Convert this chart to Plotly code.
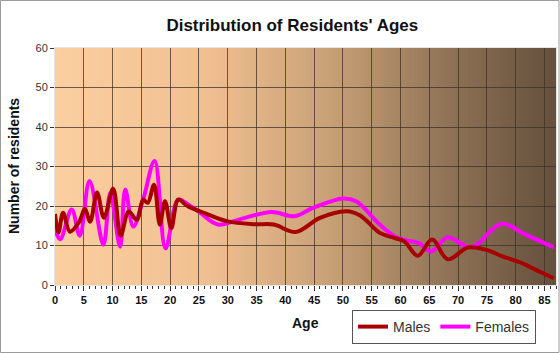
import plotly.graph_objects as go

# ---- data ----
male_ages = [0, 0.6, 1.4, 2.6, 4.2, 5.2, 6.1, 7.3, 8.5, 10.1, 11.4, 12.8, 14.2, 15.3, 16.1,
             17.2, 18.2, 19.1, 20.2, 21.4, 23, 26, 30, 34.7, 38, 41.8, 46, 50.6, 53, 56.4,
             59, 60.7, 63, 65.5, 68.2, 71.7, 74.9, 77.8, 81.2, 84.1, 86.6]
male_counts = [18, 13.3, 18.3, 13.5, 16, 19.3, 16, 23.4, 17, 24.4, 12.5, 18.6, 16.5, 21.6, 20.8,
               25.4, 15.3, 21.2, 14.4, 21.6, 20, 18.2, 16.1, 15.4, 15.3, 13.4, 17, 18.7, 17.6, 13.2,
               11.9, 11, 7.4, 11.5, 6.5, 9.5, 8.9, 7.2, 5.5, 3.4, 1.7]

female_ages = [0, 0.9, 2.9, 4.3, 6, 8.4, 9.6, 11.3, 12.2, 13.6, 15.3, 17.3, 19.2, 21.4, 23,
               25, 28.3, 31.8, 37.6, 41.6, 44.8, 50, 52.3, 56.4, 59, 61, 63.2, 65.3, 68.2,
               71.7, 73.2, 77.5, 81.8, 86.6]
female_counts = [14, 11.6, 19.1, 12.5, 26.3, 10.2, 23.3, 9.7, 24.2, 14.8, 21.6, 31.4, 9.3, 21.6, 20.5,
                 18.5, 15.3, 16.5, 18.5, 17.4, 19.5, 21.9, 21.2, 15.3, 12.3, 11.3, 10.6, 8.5, 12.1,
                 9.6, 10.2, 15.5, 12.7, 9.6]

x_ticks = list(range(0, 90, 5))
y_ticks = list(range(0, 70, 10))

FONT = "Liberation Sans, Arial, sans-serif"

fig = go.Figure()
fig.add_trace(go.Scatter(x=female_ages, y=female_counts, name="Females", mode="lines",
                         line=dict(color="#ff00ff", width=4, shape="spline", smoothing=1)))
fig.add_trace(go.Scatter(x=male_ages, y=male_counts, name="Males", mode="lines",
                         line=dict(color="#a80000", width=4, shape="spline", smoothing=1)))

# background gradient strips (peach -> dark brown)
stops = [(0.0, (252, 207, 160)), (0.3, (240, 192, 145)), (0.55, (200, 160, 118)),
         (0.8, (140, 112, 85)), (1.0, (100, 80, 60))]
def col(t):
    for i in range(len(stops) - 1):
        a, ca = stops[i]
        b, cb = stops[i + 1]
        if a <= t <= b:
            f = (t - a) / (b - a)
            return tuple(int(round(ca[k] + (cb[k] - ca[k]) * f)) for k in range(3))
    return stops[-1][1]

shapes = []
N = 120
for i in range(N):
    c = col((i + 0.5) / N)
    shapes.append(dict(type="rect", xref="x domain", yref="y domain",
                       x0=i / N, x1=(i + 1) / N + 0.002, y0=0, y1=1,
                       fillcolor="rgb(%d,%d,%d)" % c, line=dict(width=0), layer="below"))
shapes.append(dict(type="rect", xref="paper", yref="paper", x0=-55/501 + 0.001, x1=1+4/501 - 0.002,
                   y0=-68/237 + 0.002, y1=1+48/237 - 0.002, line=dict(color="#9a9a9a", width=1),
                   fillcolor="rgba(0,0,0,0)", layer="below"))

annotations = [
    dict(text="<b>Age</b>", xref="paper", yref="paper", x=(305 - 55) / 501, y=(285 - 323) / 237,
         xanchor="center", yanchor="middle", showarrow=False,
         font=dict(family=FONT, size=14, color="#111")),
    dict(text="<b>Number of residents</b>", xref="paper", yref="paper", x=(14 - 55) / 501,
         y=(285 - 166) / 237, xanchor="center", yanchor="middle", showarrow=False, textangle=-90,
         font=dict(family=FONT, size=14, color="#111")),
]

fig.update_layout(
    width=560, height=353,
    margin=dict(l=55, r=4, t=48, b=68, autoexpand=False),
    paper_bgcolor="white", plot_bgcolor="rgba(0,0,0,0)",
    shapes=shapes, annotations=annotations,
    title=dict(text="<b>Distribution of Residents' Ages</b>", x=0.522, xref="container",
               y=1 - 25/353, yanchor="middle", xanchor="center",
               font=dict(family=FONT, size=17, color="#111")),
    xaxis=dict(range=[0, 87], tickvals=x_ticks, showgrid=True,
               gridcolor="rgba(60,50,40,0.75)", gridwidth=1,
               ticks="outside", ticklen=5, tickcolor="#333",
               minor=dict(dtick=1, tick0=0, ticks="outside", ticklen=3, tickcolor="#333", showgrid=False),
               showline=True, linecolor="#e4e4e4", linewidth=1, mirror=True,
               zeroline=False,
               tickfont=dict(family=FONT, size=11, color="#111", weight="bold")),
    yaxis=dict(range=[0, 60], tickvals=y_ticks, showgrid=True,
               gridcolor="rgba(60,50,40,0.75)", gridwidth=1,
               ticks="outside", ticklen=4, tickcolor="#333",
               showline=True, linecolor="#e4e4e4", linewidth=1, mirror=True,
               zeroline=False,
               tickfont=dict(family=FONT, size=11, color="#333")),
    legend=dict(orientation="h", xref="container", yref="container",
                x=444/560, y=1 - 327/353, xanchor="center", yanchor="middle",
                bgcolor="rgba(0,0,0,0)", bordercolor="#555", borderwidth=1,
                font=dict(family=FONT, size=14, color="#333"),
                traceorder="reversed", itemwidth=30),
    showlegend=True,
)

fig.write_html("out.html")
